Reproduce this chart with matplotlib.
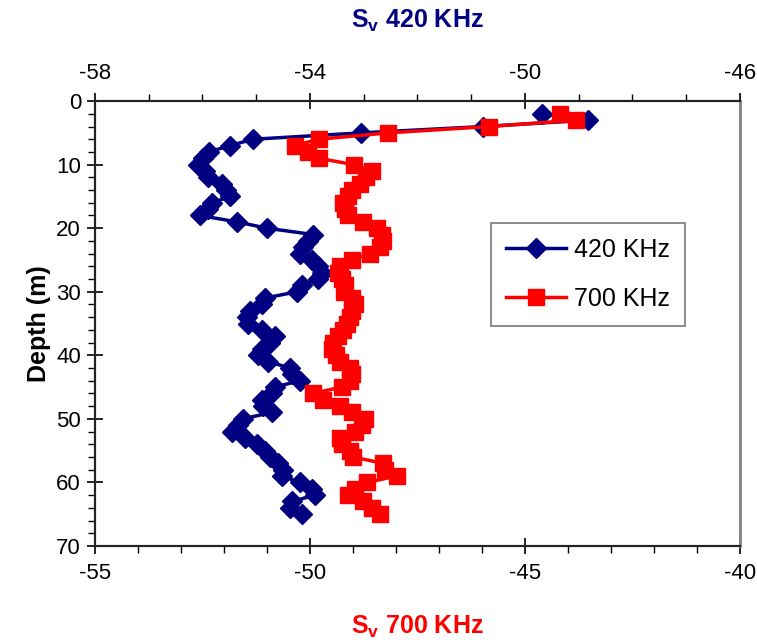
import matplotlib
matplotlib.use("Agg")
import matplotlib.pyplot as plt
from matplotlib.ticker import MultipleLocator

plt.rcParams['font.family'] = ['Liberation Sans', 'DejaVu Sans']
plt.rcParams['mathtext.fontset'] = 'custom'
plt.rcParams['mathtext.rm'] = 'Liberation Sans'
plt.rcParams['mathtext.bf'] = 'Liberation Sans:bold'
plt.rcParams['axes.unicode_minus'] = False

# depth of each sample (m)
depth = list(range(2, 66))

# volume backscattering strength, 420 kHz (top axis)
sv_420 = [-49.68, -48.83, -50.78, -53.05, -55.06, -55.49, -55.88, -55.99,
          -56.08, -55.95, -55.90, -55.64, -55.56, -55.49, -55.82, -55.90,
          -56.05, -55.36, -54.80, -53.94, -54.04, -54.13, -54.19, -53.96,
          -53.85, -53.78, -53.85, -54.15, -54.24, -54.84, -54.89, -55.12,
          -55.17, -55.15, -54.89, -54.65, -54.74, -54.89, -54.97, -54.78,
          -54.37, -54.33, -54.19, -54.65, -54.71, -54.89, -54.87, -54.71,
          -55.25, -55.34, -55.45, -55.21, -54.99, -54.84, -54.74, -54.60,
          -54.50, -54.52, -54.19, -53.96, -53.91, -54.33, -54.37, -54.15]

# volume backscattering strength, 700 kHz (bottom axis)
sv_700 = [-44.19, -43.81, -45.84, -48.19, -49.79, -50.35, -50.05, -49.79,
          -48.98, -48.56, -48.70, -48.84, -49.02, -49.12, -49.23, -49.19,
          -49.12, -48.77, -48.44, -48.33, -48.30, -48.37, -48.60, -49.02,
          -49.30, -49.35, -49.26, -49.19, -49.21, -49.02, -48.95, -49.02,
          -49.07, -49.14, -49.23, -49.35, -49.47, -49.49, -49.40, -49.30,
          -49.07, -49.02, -49.07, -49.26, -49.93, -49.70, -49.30, -49.02,
          -48.72, -48.79, -48.95, -49.30, -49.26, -49.07, -49.00, -48.30,
          -48.26, -47.98, -48.67, -48.95, -49.12, -48.77, -48.56, -48.37]

top_ticks = [-58, -54, -50, -46]
bottom_ticks = [-55, -50, -45, -40]
depth_ticks = [0, 10, 20, 30, 40, 50, 60, 70]

navy = '#000080'
red = '#ff0000'

fig = plt.figure(figsize=(7.57, 6.40), dpi=100)
ax = fig.add_axes([0.1255, 0.147, 0.852, 0.695])
ax2 = ax.twiny()

ax2.plot(sv_420, depth, color=navy, lw=2.5, marker='D', ms=10,
         mec=navy, mfc=navy, label='420 KHz')
ax.plot(sv_700, depth, color=red, lw=2.5, marker='s', ms=11,
        mec=red, mfc=red, label='700 KHz')

# red series sits above the blue one
ax.set_zorder(ax2.get_zorder() + 1)
ax.patch.set_visible(False)

ax.set_xlim(-55, -40)
ax2.set_xlim(-58, -46)
ax.set_ylim(70, 0)

ax.set_xticks(bottom_ticks)
ax.xaxis.set_minor_locator(MultipleLocator(1))
ax2.set_xticks(top_ticks)
ax2.xaxis.set_minor_locator(MultipleLocator(1))
ax.set_yticks(depth_ticks)
ax.yaxis.set_minor_locator(MultipleLocator(2))

for a in (ax, ax2):
    a.tick_params(which='major', direction='inout', length=12, width=1.2,
                  labelsize=16, pad=6, color='black')
    a.tick_params(which='minor', direction='out', length=5, width=1.0,
                  color='black')
    for side in ('top', 'bottom', 'left'):
        a.spines[side].set_linewidth(1.5)
        a.spines[side].set_color('#222222')
    a.spines['right'].set_linewidth(2)
    a.spines['right'].set_color('#888888')
ax.tick_params(axis='y', pad=4)
ax.tick_params(right=False, which='both')

ax.set_xlabel(r'S$_\mathbf{v}$ 700 KHz', color=red, fontsize=18,
              fontweight='bold', labelpad=22)
ax2.set_xlabel(r'S$_\mathbf{v}$ 420 KHz', color=navy, fontsize=18,
               fontweight='bold', labelpad=26)
ax.set_ylabel('Depth (m)', fontsize=18, fontweight='bold', labelpad=4)

h1, l1 = ax2.get_legend_handles_labels()
h2, l2 = ax.get_legend_handles_labels()
leg = ax.legend(h1 + h2, l1 + l2, loc='upper left',
                bbox_to_anchor=(0.614, 0.726), fontsize=18, frameon=True,
                fancybox=False, edgecolor='#555555', handlelength=2.4,
                borderpad=0.6, labelspacing=1.0, handletextpad=0.3,
                borderaxespad=0)
leg.get_frame().set_linewidth(1.2)

fig.savefig('out.png', dpi=100)
